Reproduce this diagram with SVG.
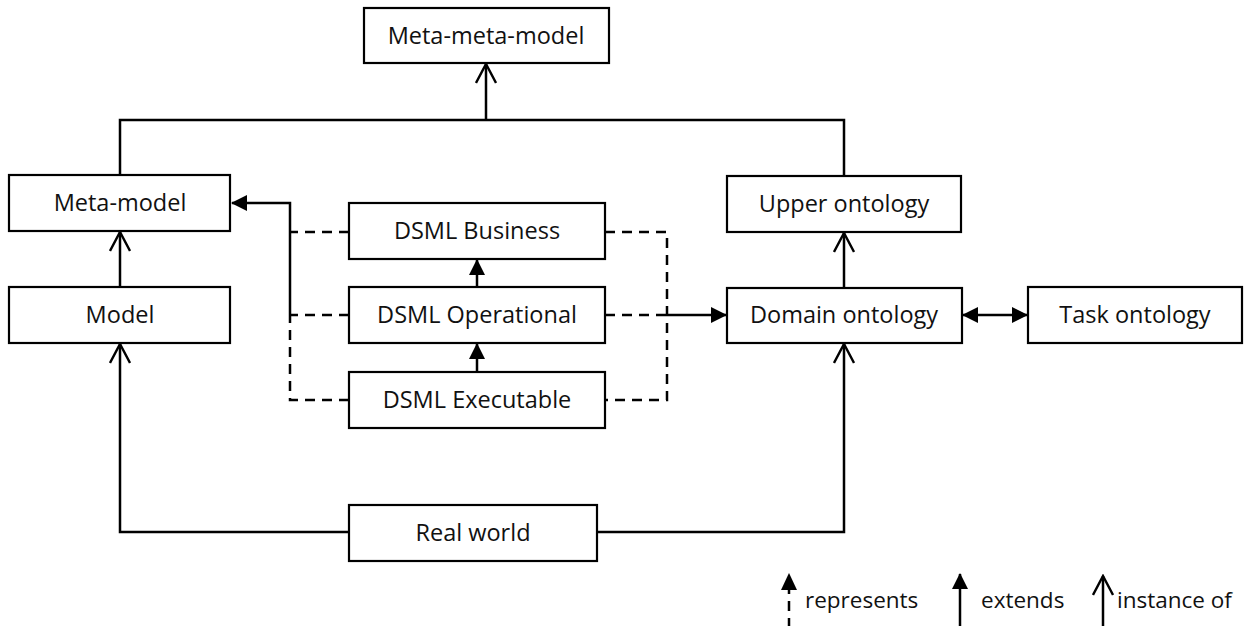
<svg xmlns="http://www.w3.org/2000/svg" width="1248" height="626" viewBox="0 0 1248 626">
  <defs>
    <marker id="filled" viewBox="0 0 16 16" refX="15" refY="8" markerWidth="16" markerHeight="16" markerUnits="userSpaceOnUse" orient="auto-start-reverse">
      <path d="M0,0 L16,8 L0,16 Z" fill="#000"/>
    </marker>
    <marker id="open" viewBox="0 0 22 22" refX="20" refY="11" markerWidth="22" markerHeight="22" markerUnits="userSpaceOnUse" orient="auto">
      <path d="M1,1 L20,11 L1,21" fill="none" stroke="#000" stroke-width="2.4"/>
    </marker>
    <style>
      .box { fill: #fff; stroke: #000; stroke-width: 2.2; }
      .label { font-family: "Open Sans", "Liberation Sans", sans-serif; font-size: 23.5px; fill: #111; text-anchor: middle; }
      .legend { font-family: "Open Sans", "Liberation Sans", sans-serif; font-size: 22.5px; fill: #111; }
      .line { fill: none; stroke: #000; stroke-width: 2.5; }
      .dash { fill: none; stroke: #000; stroke-width: 2.5; stroke-dasharray: 10 7; }
    </style>
  </defs>
  <rect width="1248" height="626" fill="#fff"/>

  <!-- connectors -->
  <g id="connectors">
    <!-- instance-of links up to the meta-meta-model -->
    <path class="line" d="M120,175 V120 H844 V176"/>
    <path class="line" d="M486,120 V64" marker-end="url(#open)"/>
    <!-- Model -> Meta-model -->
    <path class="line" d="M120,287 V232" marker-end="url(#open)"/>
    <!-- Domain ontology -> Upper ontology -->
    <path class="line" d="M844,288 V233" marker-end="url(#open)"/>
    <!-- Real world -> Model / Domain ontology -->
    <path class="line" d="M349,532 H120 V344" marker-end="url(#open)"/>
    <path class="line" d="M597,532 H844 V344" marker-end="url(#open)"/>
    <!-- DSML extends chain -->
    <path class="line" d="M477,287 V260" marker-end="url(#filled)"/>
    <path class="line" d="M477,372 V344" marker-end="url(#filled)"/>
    <!-- DSMLs represent the meta-model -->
    <path class="dash" d="M349,232 H290"/>
    <path class="dash" d="M349,315 H290"/>
    <path class="dash" d="M349,400 H290 V315"/>
    <path class="line" d="M290,315 V203 H232" marker-end="url(#filled)"/>
    <!-- DSMLs represent the domain ontology -->
    <path class="dash" d="M605,232 H667 V400 H605"/>
    <path class="dash" d="M605,315 H660"/>
    <path class="line" d="M660,315 H726" marker-end="url(#filled)"/>
    <!-- Domain ontology <-> Task ontology -->
    <path class="line" d="M963,315 H1027" marker-start="url(#filled)" marker-end="url(#filled)"/>
  </g>

  <!-- nodes -->
  <g id="meta-meta-model">
    <rect class="box" x="364" y="8" width="245" height="55"/>
    <text class="label" x="486" y="44">Meta-meta-model</text>
  </g>
  <g id="meta-model">
    <rect class="box" x="9" y="175" width="221" height="56"/>
    <text class="label" x="120" y="211">Meta-model</text>
  </g>
  <g id="model">
    <rect class="box" x="9" y="287" width="221" height="56"/>
    <text class="label" x="120" y="323">Model</text>
  </g>
  <g id="dsml-business">
    <rect class="box" x="349" y="203" width="256" height="56"/>
    <text class="label" x="477" y="239">DSML Business</text>
  </g>
  <g id="dsml-operational">
    <rect class="box" x="349" y="287" width="256" height="56"/>
    <text class="label" x="477" y="323">DSML Operational</text>
  </g>
  <g id="dsml-executable">
    <rect class="box" x="349" y="372" width="256" height="56"/>
    <text class="label" x="477" y="408">DSML Executable</text>
  </g>
  <g id="upper-ontology">
    <rect class="box" x="727" y="176" width="234" height="56"/>
    <text class="label" x="844" y="212">Upper ontology</text>
  </g>
  <g id="domain-ontology">
    <rect class="box" x="727" y="288" width="235" height="55"/>
    <text class="label" x="844" y="323">Domain ontology</text>
  </g>
  <g id="task-ontology">
    <rect class="box" x="1028" y="287" width="214" height="56"/>
    <text class="label" x="1135" y="323">Task ontology</text>
  </g>
  <g id="real-world">
    <rect class="box" x="349" y="505" width="248" height="56"/>
    <text class="label" x="473" y="541">Real world</text>
  </g>

  <!-- legend -->
  <g id="legend">
    <path class="dash" d="M789,626 V589" stroke-dasharray="8 6" stroke-dashoffset="2"/>
    <path d="M789,573 L797,590 L781,590 Z" fill="#000"/>
    <text class="legend" x="805" y="608">represents</text>
    <path class="line" d="M960,626 V574" marker-end="url(#filled)"/>
    <text class="legend" x="981" y="608">extends</text>
    <path class="line" d="M1103,626 V576" marker-end="url(#open)"/>
    <text class="legend" x="1117" y="608">instance of</text>
  </g>
</svg>
